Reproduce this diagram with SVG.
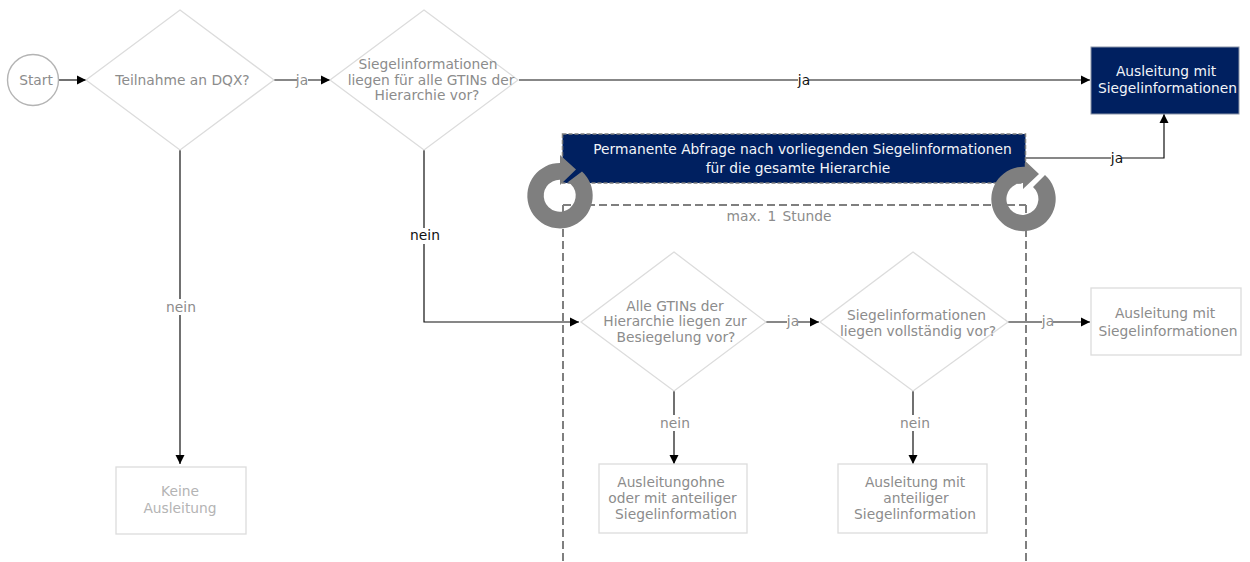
<svg xmlns="http://www.w3.org/2000/svg" width="1250" height="562" viewBox="0 0 1250 562">
<defs><marker id="a" markerUnits="userSpaceOnUse" markerWidth="11" markerHeight="11" refX="10" refY="5" orient="auto"><path d="M1 0.5L10 5L1 9.5Z" fill="#000"/></marker></defs>
<style>
text{font-family:"DejaVu Sans","Liberation Sans",sans-serif;font-size:13.8px;text-anchor:middle;fill:#8c8c8c}
.s{fill:#fff;stroke:#dcdcdc;stroke-width:1.3}
.c{fill:none;stroke:#111;stroke-width:1.2;marker-end:url(#a)}
.n{fill:#002060;stroke:#8a94a8;stroke-width:1}
.w{fill:#f2f4f8}
.k{fill:#111}
.f{fill:#b4b4b4}
.d{fill:none;stroke:#7f7f7f;stroke-width:2;stroke-dasharray:8 4}
.l{fill:#fff;stroke:none}
.r{fill:#7f7f7f}
</style>
<g id="connectors">
<path class="c" d="M59 80H86"/>
<path class="c" d="M274 80H330"/>
<path class="c" d="M519 80H1090"/>
<path class="c" d="M180 150V464"/>
<path class="c" d="M424 150V322H579"/>
<path class="c" d="M1026 158H1164V114"/>
<path class="c" d="M766 322H819"/>
<path class="c" d="M1008 322H1090"/>
<path class="c" d="M674 390V464"/>
<path class="c" d="M913 390V464"/>
</g>
<g id="frame"><path class="d" d="M563 205H1026M563 205V562M1026 205V562"/></g>
<g id="edge-labels">
<rect class="l" x="297" y="72" width="11" height="16"/><text x="302" y="85">ja</text>
<rect class="l" x="798" y="72" width="11" height="16"/><text class="k" x="804" y="85">ja</text>
<rect class="l" x="1111" y="150" width="11" height="16"/><text class="k" x="1117" y="163">ja</text>
<rect class="l" x="165" y="299" width="32" height="16"/><text x="181" y="312">nein</text>
<rect class="l" x="409" y="228" width="32" height="16"/><text class="k" x="425" y="240">nein</text>
<rect class="l" x="787" y="314" width="11" height="16"/><text x="793" y="326">ja</text>
<rect class="l" x="1042" y="314" width="11" height="16"/><text x="1048" y="326">ja</text>
<rect class="l" x="659" y="415" width="32" height="16"/><text x="675" y="428">nein</text>
<rect class="l" x="899" y="415" width="32" height="16"/><text x="915" y="428">nein</text>
<text x="779" y="221" word-spacing="2">max. 1 Stunde</text>
</g>
<g id="start"><circle cx="33" cy="80" r="25.5" fill="#fff" stroke="#b4b4b4" stroke-width="1.4"/><text x="36" y="85">Start</text></g>
<g id="d1"><path class="s" d="M180 10L274 80L180 150L86 80Z"/><text x="182.500" y="85">Teilnahme an DQX?</text></g>
<g id="d2"><path class="s" d="M424 10L518 80L424 150L330 80Z"/><text x="428" y="69">Siegelinformationen</text><text x="431" y="85">liegen für alle GTINs der</text><text x="427" y="100">Hierarchie vor?</text></g>
<g id="out1"><rect x="1091" y="47" width="148" height="67" class="n"/><text class="w" x="1166" y="76">Ausleitung mit</text><text class="w" x="1167.500" y="92.500">Siegelinformationen</text></g>
<g id="perm"><rect x="562.500" y="134" width="463" height="49" class="n" style="stroke:#7f7f7f;stroke-dasharray:4 2;stroke-width:1.5"/><text class="w" x="802.500" y="154">Permanente Abfrage nach vorliegenden Siegelinformationen</text><text class="w" x="798" y="173">für die gesamte Hierarchie</text></g>
<g id="loop1"><path class="r" d="M582 171.500A32.700 32.700 0 1 1 560 163L560 155L576 169.500L560 185L560 179.700A16 16 0 1 0 568 182Z"/></g>
<g id="loop2"><path class="r" d="M1045 175A32.200 32.200 0 1 1 1025 166.800L1025 160.700L1039 174L1023 189L1023 183A16 16 0 1 0 1033 187Z"/></g>
<g id="d3"><path class="s" d="M674 252L766 322L674 391L581 322Z"/><text x="675" y="311">Alle GTINs der</text><text x="675" y="326">Hierarchie liegen zur</text><text x="676" y="342">Besiegelung vor?</text></g>
<g id="d4"><path class="s" d="M913 252L1008 322L913 391L820 322Z"/><text x="916.500" y="320">Siegelinformationen</text><text x="918" y="336">liegen vollständig vor?</text></g>
<g id="out2"><rect x="1091" y="288" width="150" height="67" class="s"/><text x="1165" y="318">Ausleitung mit</text><text x="1168" y="336">Siegelinformationen</text></g>
<g id="out3"><rect x="599" y="464" width="148" height="69" class="s"/><text x="671" y="487">Ausleitungohne</text><text x="672.500" y="503">oder mit anteiliger</text><text x="676" y="519">Siegelinformation</text></g>
<g id="out4"><rect x="838" y="464" width="149" height="69" class="s"/><text x="915" y="487">Ausleitung mit</text><text x="916" y="503">anteiliger</text><text x="915" y="519">Siegelinformation</text></g>
<g id="out5"><rect x="116" y="467" width="130" height="67" class="s"/><text class="f" x="180" y="496">Keine</text><text class="f" x="180" y="513">Ausleitung</text></g>
</svg>
